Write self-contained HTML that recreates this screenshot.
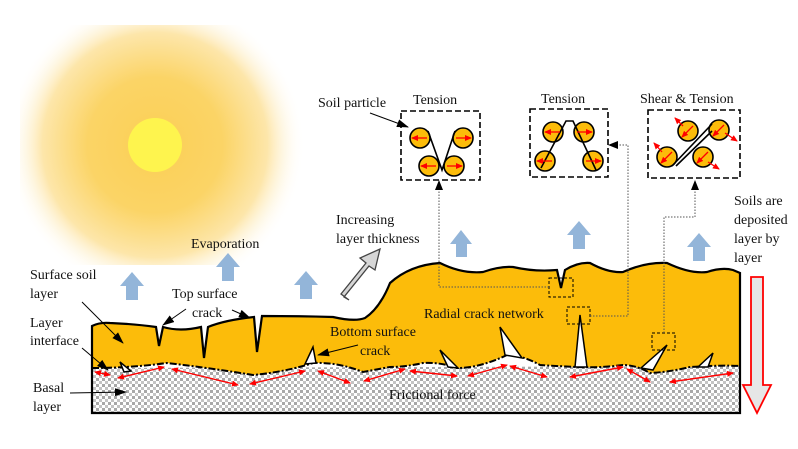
<!DOCTYPE html>
<html><head><meta charset="utf-8"><style>
html,body{margin:0;padding:0;background:#fff}
svg{display:block}
text{font-family:"Liberation Serif",serif;font-size:14px;fill:#111}
</style></head><body>
<svg width="798" height="449" viewBox="0 0 798 449" xmlns="http://www.w3.org/2000/svg">
<defs>
<radialGradient id="glow" cx="155" cy="145" r="150" gradientUnits="userSpaceOnUse">
<stop offset="0" stop-color="#fbcf55"/>
<stop offset="0.45" stop-color="#fbd466"/>
<stop offset="0.75" stop-color="#fde6aa"/>
<stop offset="1" stop-color="#ffffff" stop-opacity="0"/>
</radialGradient>
<pattern id="grav" width="6" height="6" patternUnits="userSpaceOnUse">
<rect width="6" height="6" fill="#ffffff"/>
<rect x="0" y="0" width="3" height="3" fill="#a8a8a8"/>
<rect x="3" y="3" width="3" height="3" fill="#c4c4c4"/>
</pattern>
<marker id="bk2" markerWidth="12" markerHeight="8" refX="11" refY="4" orient="auto" markerUnits="userSpaceOnUse"><path d="M0,0 L12,4 L0,8 Z" fill="#000"/></marker>
<marker id="ra" markerWidth="7" markerHeight="6" refX="6" refY="3" orient="auto" markerUnits="userSpaceOnUse"><path d="M0,0 L7,3 L0,6 Z" fill="#f00"/></marker>
<marker id="rs" markerWidth="7" markerHeight="6" refX="1" refY="3" orient="auto" markerUnits="userSpaceOnUse"><path d="M7,0 L0,3 L7,6 Z" fill="#f00"/></marker>
</defs>
<rect x="20" y="25" width="290" height="240" fill="url(#glow)"/>
<circle cx="155" cy="145" r="27" fill="#fef44e"/>

<path d="M92,368 L92,413 L740,413 L740,366 Z" fill="url(#grav)"/>
<path d="M92,326 Q100,322 110,323 Q135,324 156,327 L159,346 L163,327 Q180,332 201,327 L204,358 L208,327 Q225,320 254,317 L257,352 L262,316 Q300,316 333,317 Q355,322 365,318 Q380,308 390,283 Q410,265 440,263 Q462,274 483,272 Q500,266 513,267 Q535,272 557,270 L561,288 L565,270 Q578,262 590,263 Q608,273 623,272 Q645,262 667,263 Q690,274 707,272 Q722,267 733,270 L740,273 L740,366 Q720,365 690,367 Q670,372 650,373 Q636,365 623,365 Q600,368 577,367 Q555,366 540,365 Q522,355 507,355 Q480,368 457,368 Q440,362 423,363 Q405,367 390,367 L363,372 Q338,362 313,363 Q285,372 253,375 Q210,368 167,363 Q130,368 92,368 Z" fill="#fcbc0a" stroke="none"/>
<path d="M92,413 L92,326 Q100,322 110,323 Q135,324 156,327 L159,346 L163,327 Q180,332 201,327 L204,358 L208,327 Q225,320 254,317 L257,352 L262,316 Q300,316 333,317 Q355,322 365,318 Q380,308 390,283 Q410,265 440,263 Q462,274 483,272 Q500,266 513,267 Q535,272 557,270 L561,288 L565,270 Q578,262 590,263 Q608,273 623,272 Q645,262 667,263 Q690,274 707,272 Q722,267 733,270 L740,273 L740,413 Z" fill="none" stroke="#000" stroke-width="2.2"/>
<path d="M92,368 Q130,368 167,363 Q210,368 253,375 Q285,372 313,363 Q338,362 363,372 L390,367 Q405,367 423,363 Q440,362 457,368 Q480,368 507,355 Q522,355 540,365 Q555,366 577,367 Q600,368 623,365 Q636,365 650,373 Q670,372 690,367 Q720,365 740,366" fill="none" stroke="#000" stroke-width="2" stroke-dasharray="7,2,2,2"/>

<g fill="#fff" stroke="#000" stroke-width="1.5">
<path d="M120,362 L124,372 L131,371 Z"/>
<path d="M313,347 L305,364 L316,363 Z"/>
<path d="M440,350 L448,367 L458,368 Z"/>
<path d="M500,327 L505,355 L522,358 Z"/>
<path d="M580,315 L575,367 L587,367 Z"/>
<path d="M667,345 L641,368 L653,370 Z"/>
<path d="M713,353 L698,367 L708,367 Z"/>
</g>

<g stroke="#f00" stroke-width="1.4" marker-end="url(#ra)" marker-start="url(#rs)">
<line x1="95" y1="372" x2="110" y2="375"/>
<line x1="118" y1="378" x2="164" y2="367"/>
<line x1="172" y1="369" x2="238" y2="385"/>
<line x1="250" y1="384" x2="305" y2="371"/>
<line x1="318" y1="371" x2="350" y2="383"/>
<line x1="364" y1="381" x2="405" y2="369"/>
<line x1="410" y1="371" x2="457" y2="376"/>
<line x1="468" y1="376" x2="507" y2="365"/>
<line x1="510" y1="366" x2="547" y2="377"/>
<line x1="570" y1="377" x2="623" y2="367"/>
<line x1="627" y1="369" x2="650" y2="382"/>
<line x1="670" y1="382" x2="733" y2="373"/>
</g>

<g fill="#93b5d9">
<path d="M126,300 L126,286 L120,286 L132,272 L144,286 L138,286 L138,300 Z"/>
<path d="M222,281 L222,267 L216,267 L228,253 L240,267 L234,267 L234,281 Z"/>
<path d="M300,299 L300,285 L294,285 L306,271 L318,285 L312,285 L312,299 Z"/>
<path d="M456,257 L456,244 L450,244 L461,230 L472,244 L467,244 L467,257 Z"/>
<path d="M573,249 L573,235 L567,235 L579,221 L591,235 L585,235 L585,249 Z"/>
<path d="M693,261 L693,247 L687,247 L699,233 L711,247 L705,247 L705,261 Z"/>
</g>
<path d="M349,300 L341,294 L366,263 L360,258 L380,249 L375,270 L369,266 L344,297 Z" fill="#d6d6d6" stroke="#444" stroke-width="1.3"/>
<path d="M751,277 L763,277 L763,385 L771,385 L757,413 L743,385 L751,385 Z" fill="#e6e6e6" stroke="#f00" stroke-width="1.8"/>

<g fill="none" stroke="#000" stroke-width="1" stroke-dasharray="3,2">
<rect x="549" y="278" width="24" height="19"/>
<rect x="567" y="307" width="23" height="17"/>
<rect x="652" y="333" width="23" height="17"/>
</g>
<g fill="none" stroke="#555" stroke-width="1" stroke-dasharray="1.5,1.5">
<path d="M549,287 L439,287 L439,190"/>
<path d="M590,316 L628,316 L628,145 L618,145"/>
<path d="M664,333 L664,217 L695,217 L695,190"/>
</g>
<path d="M435,190 L439,180 L443,190 Z"/>
<path d="M618,141 L608,145 L618,149 Z"/>
<path d="M691,190 L695,180 L699,190 Z"/>

<g fill="none" stroke="#000" stroke-width="1.6" stroke-dasharray="6,3">
<rect x="401" y="111" width="79" height="69"/>
<rect x="530" y="109" width="78" height="68"/>
<rect x="648" y="110" width="92" height="68"/>
</g>
<g fill="#fcbc0a" stroke="#000" stroke-width="1.6">
<circle cx="420" cy="138" r="10"/><circle cx="463" cy="138" r="10"/>
<circle cx="429" cy="166" r="10"/><circle cx="454" cy="166" r="10"/>
<circle cx="553" cy="132" r="10"/><circle cx="584" cy="132" r="10"/>
<circle cx="545" cy="161" r="10"/><circle cx="593" cy="161" r="10"/>
<circle cx="688" cy="131" r="10"/><circle cx="719" cy="130" r="10"/>
<circle cx="667" cy="157" r="10"/><circle cx="703" cy="157" r="10"/>
</g>
<g fill="none" stroke="#000" stroke-width="1.6">
<path d="M428,131 L442,170 L455,131"/>
<path d="M541,168 L566,121 L573,121 L596,170"/>
<path d="M672,166 L712,124 M676,166 L712,131"/>
</g>
<g stroke="#f00" stroke-width="1.3" marker-end="url(#ra)">
<line x1="427" y1="138" x2="412" y2="138"/><line x1="456" y1="138" x2="471" y2="138"/>
<line x1="436" y1="166" x2="421" y2="166"/><line x1="447" y1="166" x2="462" y2="166"/>
<line x1="560" y1="132" x2="545" y2="132"/><line x1="577" y1="132" x2="592" y2="132"/>
<line x1="552" y1="161" x2="537" y2="161"/><line x1="586" y1="161" x2="601" y2="161"/>
<line x1="693" y1="126" x2="682" y2="137"/><line x1="683" y1="126" x2="675" y2="118"/>
<line x1="724" y1="125" x2="713" y2="136"/><line x1="725" y1="133" x2="737" y2="141"/>
<line x1="672" y1="152" x2="661" y2="163"/><line x1="662" y1="152" x2="654" y2="143"/>
<line x1="708" y1="152" x2="697" y2="163"/><line x1="708" y1="162" x2="719" y2="169"/>
</g>

<g stroke="#000" stroke-width="1" fill="none" marker-end="url(#bk2)">
<line x1="370" y1="113" x2="408" y2="127"/>
<line x1="82" y1="302" x2="123" y2="343"/>
<line x1="186" y1="309" x2="163" y2="325"/>
<line x1="232" y1="310" x2="250" y2="318"/>
<line x1="82" y1="348" x2="108" y2="370"/>
<line x1="70" y1="393" x2="126" y2="392"/>
<line x1="358" y1="345" x2="318" y2="355"/>
</g>

<text x="318" y="107">Soil particle</text>
<text x="413" y="104">Tension</text>
<text x="541" y="103">Tension</text>
<text x="640" y="103">Shear &amp; Tension</text>
<text x="336" y="224">Increasing</text>
<text x="336" y="243">layer thickness</text>
<text x="191" y="248">Evaporation</text>
<text x="30" y="279">Surface soil</text>
<text x="30" y="298">layer</text>
<text x="172" y="298">Top surface</text>
<text x="192" y="317">crack</text>
<text x="30" y="327">Layer</text>
<text x="30" y="345">interface</text>
<text x="33" y="392">Basal</text>
<text x="33" y="411">layer</text>
<text x="330" y="336">Bottom surface</text>
<text x="360" y="355">crack</text>
<text x="424" y="318">Radial crack network</text>
<text x="389" y="399">Frictional force</text>
<text x="734" y="205">Soils are</text>
<text x="734" y="224">deposited</text>
<text x="734" y="243">layer by</text>
<text x="734" y="262">layer</text>
</svg>
</body></html>
